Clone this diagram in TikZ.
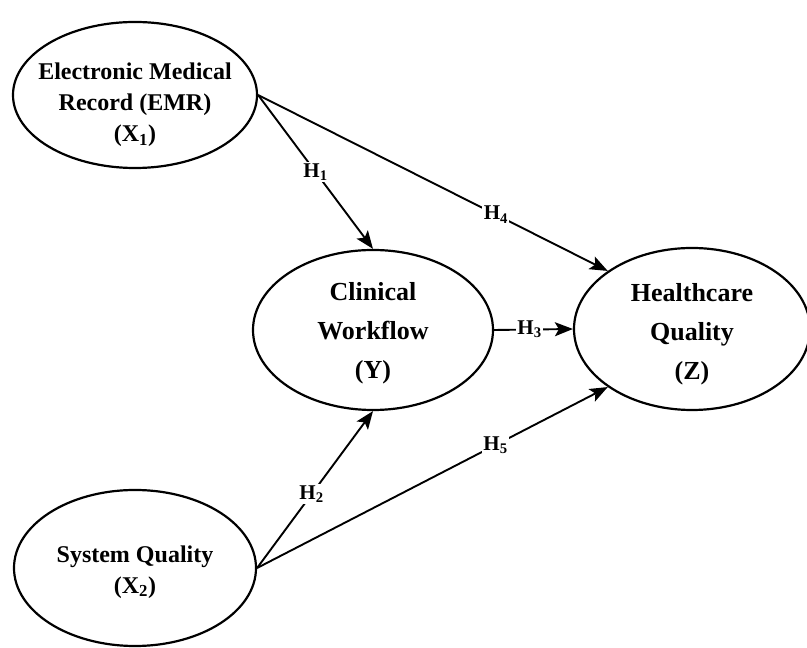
\documentclass[tikz,border=0pt]{standalone}
\usepackage{fontspec}
\setmainfont{Liberation Serif}
\usetikzlibrary{shapes.geometric,arrows.meta}

\begin{document}
\begin{tikzpicture}[x=1pt,y=1pt,
    oval/.style={ellipse,draw,line width=2.2pt,inner sep=0pt},
    smalltxt/.style={align=center,font=\fontsize{24}{31}\selectfont\bfseries},
    bigtxt/.style={align=center,font=\fontsize{26}{39}\selectfont\bfseries},
    hyp/.style={fill=white,inner sep=1.5pt,font=\fontsize{21}{23}\selectfont\bfseries},
    link/.style={line width=1.9pt,-{Stealth[length=18pt,width=14pt,inset=4pt]}}]
  \def\W{807}
  \def\H{648}
  \useasboundingbox (0,0) rectangle (\W,\H);

  % constructs
  \node[oval,minimum width=244pt,minimum height=146pt] (emr) at (135,553) {};
  \node[oval,minimum width=242pt,minimum height=156pt] (sq) at (135,80) {};
  \node[oval,minimum width=240pt,minimum height=160pt] (wf) at (373,318) {};
  \node[oval,minimum width=236pt,minimum height=162pt] (hq) at (692,319) {};

  \node[smalltxt] (emrtxt) at ([yshift=-10pt]emr.center)
    {Electronic Medical\\Record (EMR)\\(X\textsubscript{1})};
  \node[smalltxt] (sqtxt) at ([yshift=-4pt]sq.center)
    {System Quality\\(X\textsubscript{2})};
  \node[bigtxt] (wftxt) at ([yshift=-3pt]wf.center)
    {Clinical\\Workflow\\(Y)};
  \node[bigtxt] (hqtxt) at ([yshift=-5pt]hq.center)
    {Healthcare\\Quality\\(Z)};

  % hypotheses
  \foreach \a/\b/\i/\p in {emr.east/wf.north/1/0.5,
                           sq.east/wf.south/2/0.47,
                           wf.east/hq.west/3/0.45,
                           emr.east/hq.north west/4/0.68,
                           sq.east/hq.south west/5/0.68} {
    \draw[link] (\a) -- node[hyp,pos=\p] (h\i) {H\textsubscript{\i}} (\b);
  }

\end{tikzpicture}
\end{document}
